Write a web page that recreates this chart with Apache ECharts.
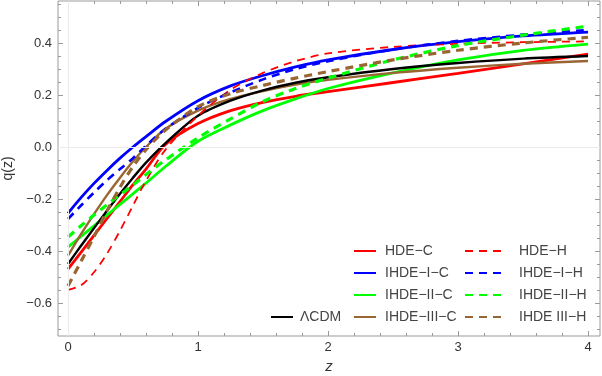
<!DOCTYPE html>
<html lang="en">
  <head>
    <meta charset="UTF-8" />
    <title>q(z)</title>
    <script src="https://cdn.jsdelivr.net/npm/echarts@6/dist/echarts.min.js"></script>
    <style>
      html, body { margin: 0; padding: 0; background: #fff; }
    </style>
  </head>
  <body>
    <div id="main" style="width: 602px; height: 376px"></div>
    <script type="text/javascript">
      // redshift samples shared by all curves
      const zValues = [0, 0.1, 0.2, 0.3, 0.4, 0.5, 0.6, 0.75, 1, 1.25, 1.5, 1.75, 2, 2.5, 3, 3.5, 4];

      // deceleration parameter
      const lcdm = [-0.45, -0.38, -0.312, -0.245, -0.18, -0.118, -0.06, 0.015, 0.12, 0.178, 0.218, 0.247, 0.268, 0.3, 0.323, 0.34, 0.35];
      const hdeC = [-0.47, -0.405, -0.34, -0.275, -0.21, -0.145, -0.085, 0.01, 0.09, 0.14, 0.172, 0.195, 0.213, 0.248, 0.283, 0.32, 0.357];
      const ihde1C = [-0.255, -0.195, -0.14, -0.09, -0.043, 0.0, 0.04, 0.098, 0.178, 0.235, 0.275, 0.308, 0.335, 0.375, 0.405, 0.427, 0.442];
      const ihde2C = [-0.385, -0.344, -0.303, -0.262, -0.221, -0.18, -0.139, -0.075, 0.022, 0.085, 0.14, 0.185, 0.225, 0.285, 0.335, 0.372, 0.396];
      const ihde3C = [-0.418, -0.335, -0.258, -0.185, -0.118, -0.055, 0.0, 0.07, 0.14, 0.185, 0.215, 0.24, 0.258, 0.285, 0.305, 0.32, 0.331];
      const hdeH = [-0.55, -0.532, -0.482, -0.41, -0.322, -0.225, -0.13, -0.01, 0.12, 0.22, 0.285, 0.33, 0.36, 0.385, 0.397, 0.403, 0.406];
      const ihde1H = [-0.277, -0.225, -0.175, -0.128, -0.085, -0.043, 0.005, 0.07, 0.15, 0.21, 0.26, 0.3, 0.33, 0.375, 0.408, 0.432, 0.45];
      const ihde2H = [-0.346, -0.303, -0.262, -0.222, -0.184, -0.146, -0.106, -0.05, 0.035, 0.108, 0.175, 0.225, 0.265, 0.335, 0.39, 0.43, 0.465];
      const ihde3H = [-0.535, -0.44, -0.345, -0.245, -0.155, -0.075, -0.01, 0.065, 0.155, 0.205, 0.237, 0.265, 0.29, 0.335, 0.372, 0.4, 0.422];

      // tick positions
      const xMajorTicks = [0, 1, 2, 3, 4];
      const xMinorTicks = [0.2, 0.4, 0.6, 0.8, 1.2, 1.4, 1.6, 1.8, 2.2, 2.4, 2.6, 2.8, 3.2, 3.4, 3.6, 3.8];
      const yMajorTicks = [-0.6, -0.4, -0.2, 0, 0.2, 0.4];
      const yMinorTicks = [-0.7, -0.65, -0.55, -0.5, -0.45, -0.35, -0.3, -0.25, -0.15, -0.1, -0.05,
        0.05, 0.1, 0.15, 0.25, 0.3, 0.35, 0.45, 0.5, 0.55];

      const font = "Liberation Sans";
      const frameColor = "#9a9a9a";
      const pairs = (ys) => zValues.map((z, i) => [z, ys[i]]);
      const fmt = (v) => (v < 0 ? "\u2212" : "") + Math.abs(v).toFixed(1);

      function xAxisDef(pos, ticks, len, labels) {
        return {
          type: "value", position: pos, min: -0.077, max: 4.092,
          axisLine: { show: false, onZero: false }, splitLine: { show: false },
          axisTick: { show: true, inside: true, length: len, customValues: ticks,
            lineStyle: { color: frameColor } },
          axisLabel: labels
            ? { show: true, customValues: ticks, margin: 5, color: "#333", fontSize: 13, fontFamily: font,
                formatter: (v) => String(v) }
            : { show: false },
        };
      }
      function yAxisDef(pos, ticks, len, labels) {
        return {
          type: "value", position: pos, min: -0.727, max: 0.5615,
          axisLine: { show: false, onZero: false }, splitLine: { show: false },
          axisTick: { show: true, inside: true, length: len, customValues: ticks,
            lineStyle: { color: frameColor } },
          axisLabel: labels
            ? { show: true, customValues: ticks, margin: 6, color: "#333", fontSize: 13, fontFamily: font,
                formatter: fmt }
            : { show: false },
        };
      }

      function line(name, data, color, width, dashed) {
        return {
          name: name, type: "line", data: pairs(data), symbol: "none", smooth: 0.3,
          lineStyle: { color: color, width: width, type: dashed ? [8, 6] : "solid" },
          itemStyle: { color: color },
        };
      }

      const legendText = { color: "#444", fontSize: 14, fontFamily: font, lineHeight: 14 };
      const zeroLine = { color: "#ebebeb", width: 1, type: "solid" };

      let myChart = echarts.init(document.getElementById("main"));
      let xAxes = [xAxisDef("bottom", xMajorTicks, 5, true), xAxisDef("bottom", xMinorTicks, 3, false),
        xAxisDef("top", xMajorTicks, 5, false), xAxisDef("top", xMinorTicks, 3, false)];
      xAxes[0].name = "z";
      xAxes[0].nameLocation = "middle";
      xAxes[0].nameGap = 10;
      xAxes[0].nameTextStyle = { color: "#333", fontSize: 15, fontStyle: "italic", fontFamily: font };
      let yAxes = [yAxisDef("left", yMajorTicks, 5, true), yAxisDef("left", yMinorTicks, 3, false),
        yAxisDef("right", yMajorTicks, 5, false), yAxisDef("right", yMinorTicks, 3, false)];
      yAxes[0].name = "q(z)";
      yAxes[0].nameLocation = "middle";
      yAxes[0].nameGap = 35;
      yAxes[0].nameTextStyle = { color: "#333", fontSize: 14, fontFamily: font };

      let series = [
        line("HDE\u2212C", hdeC, "#ff0000", 2.8, false),
        line("IHDE\u2212I\u2212C", ihde1C, "#0000ff", 2.8, false),
        line("IHDE\u2212II\u2212C", ihde2C, "#00ff00", 2.8, false),
        line("IHDE\u2212III\u2212C", ihde3C, "#996633", 2.4, false),
        line("\u039BCDM", lcdm, "#000000", 2.4, false),
        line("HDE\u2212H", hdeH, "#ff0000", 1.8, true),
        line("IHDE\u2212I\u2212H", ihde1H, "#0000ff", 2.6, true),
        line("IHDE\u2212II\u2212H", ihde2H, "#00ff00", 3.2, true),
        line("IHDE III\u2212H", ihde3H, "#996633", 3.2, true),
      ];
      // faint zero lines
      series[0].markLine = {
        silent: true, symbol: "none", label: { show: false },
        lineStyle: zeroLine, emphasis: { disabled: true },
        data: [{ yAxis: 0, lineStyle: zeroLine }, { xAxis: 0, lineStyle: zeroLine }],
      };

      const legendBase = { padding: 0, itemHeight: 14, itemGap: 8, lineStyle: { width: 2 },
        itemStyle: { opacity: 0 } };

      let options = {
        animation: false,
        grid: { left: 58, right: 2, top: 1, bottom: 40, show: true, borderColor: frameColor, borderWidth: 1,
          containLabel: false, outerBoundsMode: "none" },
        xAxis: xAxes,
        yAxis: yAxes,
        legend: [
          Object.assign({ data: ["\u039BCDM"], left: 270, top: 310, itemWidth: 22,
            textStyle: Object.assign({ padding: [0, 0, 0, 2] }, legendText) }, legendBase),
          Object.assign({ data: ["HDE\u2212C", "IHDE\u2212I\u2212C", "IHDE\u2212II\u2212C", "IHDE\u2212III\u2212C"],
            orient: "vertical", left: 353, top: 244, itemWidth: 22,
            textStyle: Object.assign({ padding: [0, 0, 0, 4] }, legendText) }, legendBase),
          Object.assign({ data: ["HDE\u2212H", "IHDE\u2212I\u2212H", "IHDE\u2212II\u2212H", "IHDE III\u2212H"],
            orient: "vertical", left: 464, top: 244, itemWidth: 36,
            textStyle: Object.assign({ padding: [0, 0, 0, 13] }, legendText) }, legendBase),
        ],
        series: series,
      };
      myChart.setOption(options);
    </script>
  </body>
</html>
